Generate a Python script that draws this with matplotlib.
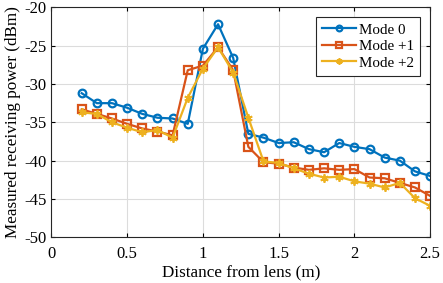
import numpy as np
import matplotlib.pyplot as plt

plt.rcParams['font.family'] = ['Liberation Serif', 'DejaVu Serif']
plt.rcParams['axes.unicode_minus'] = False

distance = [0.2, 0.3, 0.4, 0.5, 0.6, 0.7, 0.8, 0.9, 1.0, 1.1, 1.2, 1.3,
            1.4, 1.5, 1.6, 1.7, 1.8, 1.9, 2.0, 2.1, 2.2, 2.3, 2.4, 2.5]
mode_0 = [-31.2, -32.5, -32.5, -33.1, -33.9, -34.4, -34.5, -35.2, -25.4, -22.2, -26.6, -36.5,
          -37.0, -37.7, -37.6, -38.5, -38.9, -37.7, -38.2, -38.5, -39.6, -40.0, -41.4, -42.0]
mode_p1 = [-33.3, -33.9, -34.5, -35.2, -35.8, -36.2, -36.7, -28.2, -27.6, -25.2, -28.2, -38.2,
           -40.2, -40.4, -40.9, -41.2, -41.0, -41.2, -41.1, -42.2, -42.3, -42.9, -43.5, -44.6]
mode_p2 = [-33.7, -33.9, -35.0, -35.7, -36.3, -36.0, -37.0, -31.8, -28.0, -25.2, -28.5, -34.4,
           -40.1, -40.3, -41.0, -41.7, -42.2, -42.1, -42.7, -43.0, -43.5, -42.9, -44.9, -45.9]

fig = plt.figure(figsize=(4.43, 2.83), dpi=100)
ax = fig.add_axes([0.116, 0.1615, 0.855, 0.8125])

ax.plot(distance, mode_0, color='#0072BD', lw=1.6, marker='o', ms=5.5,
        mfc='none', mew=1.6, label='Mode 0')
ax.plot(distance, mode_p1, color='#D95319', lw=1.6, marker='s', ms=5.5,
        mfc='none', mew=1.6, label='Mode +1')
ax.plot(distance, mode_p2, color='#EDB120', lw=1.6, marker=(6, 2, 0), ms=6,
        mew=1.3, label='Mode +2')

ax.set_xlim(0, 2.5)
ax.set_ylim(-50, -20)
ax.set_xticks([0, 0.5, 1, 1.5, 2, 2.5])
ax.set_xticklabels(['0', '0.5', '1', '1.5', '2', '2.5'])
ax.set_yticks(range(-50, -19, 5))
ax.grid(True, color='#dcdcdc', lw=0.8)
ax.set_axisbelow(True)
ax.tick_params(direction='in', labelsize=12, length=3, top=True, right=True)
ax.tick_params(axis='y', pad=3.5)
ax.tick_params(axis='x', pad=6)
for s in ax.spines.values():
    s.set_linewidth(0.8)
    s.set_color('#262626')

ax.set_xlabel('Distance from lens (m)', fontsize=12.3, labelpad=2)
ax.set_ylabel('Measured receiving power (dBm)', fontsize=12.3, labelpad=2)

leg = ax.legend(loc='upper right', fontsize=10.8, fancybox=False, framealpha=1,
                edgecolor='#262626', handlelength=2.3, borderaxespad=0.65,
                labelspacing=0.2, borderpad=0.4, handletextpad=0.2,
                markerscale=0.75)
leg.get_frame().set_linewidth(0.8)

fig.savefig('out.png', dpi=100)
